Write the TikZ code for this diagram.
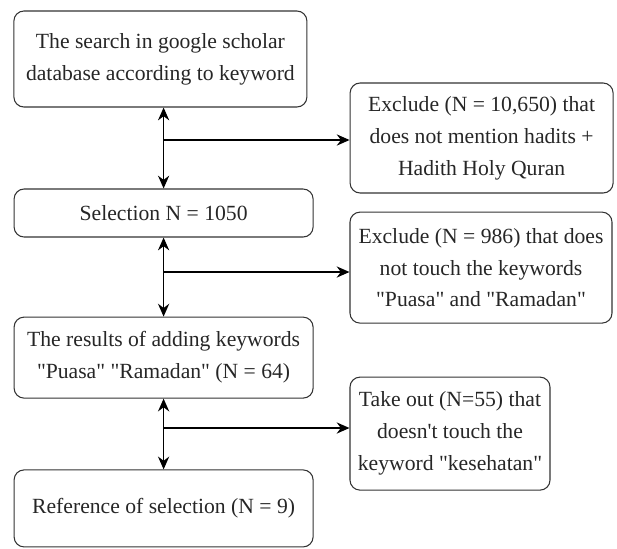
\documentclass[tikz,border=0pt]{standalone}
\usepackage{fontspec}
\setmainfont{Liberation Serif}[Ligatures=TeXOff]
\usetikzlibrary{arrows.meta}

\begin{document}
\begin{tikzpicture}[
		flowbox/.style={draw=black!80, line width=.75pt, rounded corners=.25cm, align=center,
			inner sep=0pt, text=black!85, font=\fontsize{15.4}{22.7}\selectfont},
		link/.style={line width=1.1pt, -{Stealth[length=.32cm,width=.28cm]}},
		both/.style={line width=1.1pt, {Stealth[length=.32cm,width=.28cm]}-{Stealth[length=.32cm,width=.28cm]}}
	]
			\useasboundingbox (0,0) rectangle (15.425,-13.7);
			% main column
			\node[flowbox, minimum width=7.325cm, minimum height=2.4cm] (search) at (4.01,-1.475)
				{The search in google scholar\\database according to keyword};
			\node[flowbox, minimum width=7.475cm, minimum height=1.2cm] (select) at (4.09,-5.325)
				{Selection N = 1050};
			\node[flowbox, minimum width=7.475cm, minimum height=2.025cm] (adding) at (4.09,-8.94)
				{The results of adding keywords\\"Puasa" "Ramadan" (N = 64)};
			\node[flowbox, minimum width=7.475cm, minimum height=1.925cm] (result) at (4.09,-12.71)
				{Reference of selection (N = 9)};
			% exclusions
			\node[flowbox, minimum width=6.575cm, minimum height=2.75cm] (excl1) at (12.04,-3.45)
				{Exclude (N = 10,650) that\\does not mention hadits +\\Hadith Holy Quran};
			\node[flowbox, minimum width=6.55cm, minimum height=2.775cm] (excl2) at (12.025,-6.69)
				{Exclude (N = 986) that does\\not touch the keywords\\"Puasa" and "Ramadan"};
			\node[flowbox, minimum width=5cm, minimum height=2.825cm] (takeout) at (11.25,-10.84)
				{Take out (N=55) that\\doesn't touch the\\keyword "kesehatan"};
			% vertical arrows
			\draw[both] (select.north |- search.south) -- (select.north);
			\draw[both] (select.south) -- (adding.north);
			\draw[both] (adding.south) -- (result.north);
			% branches
			\coordinate (b1) at (select.north |- 0,-3.5);
			\coordinate (b2) at (select.north |- 0,-6.8);
			\coordinate (b3) at (select.north |- 0,-10.7);
			\draw[link] (b1) -- (b1 -| excl1.west);
			\draw[link] (b2) -- (b2 -| excl2.west);
			\draw[link] (b3) -- (b3 -| takeout.west);
		\end{tikzpicture}
\end{document}
